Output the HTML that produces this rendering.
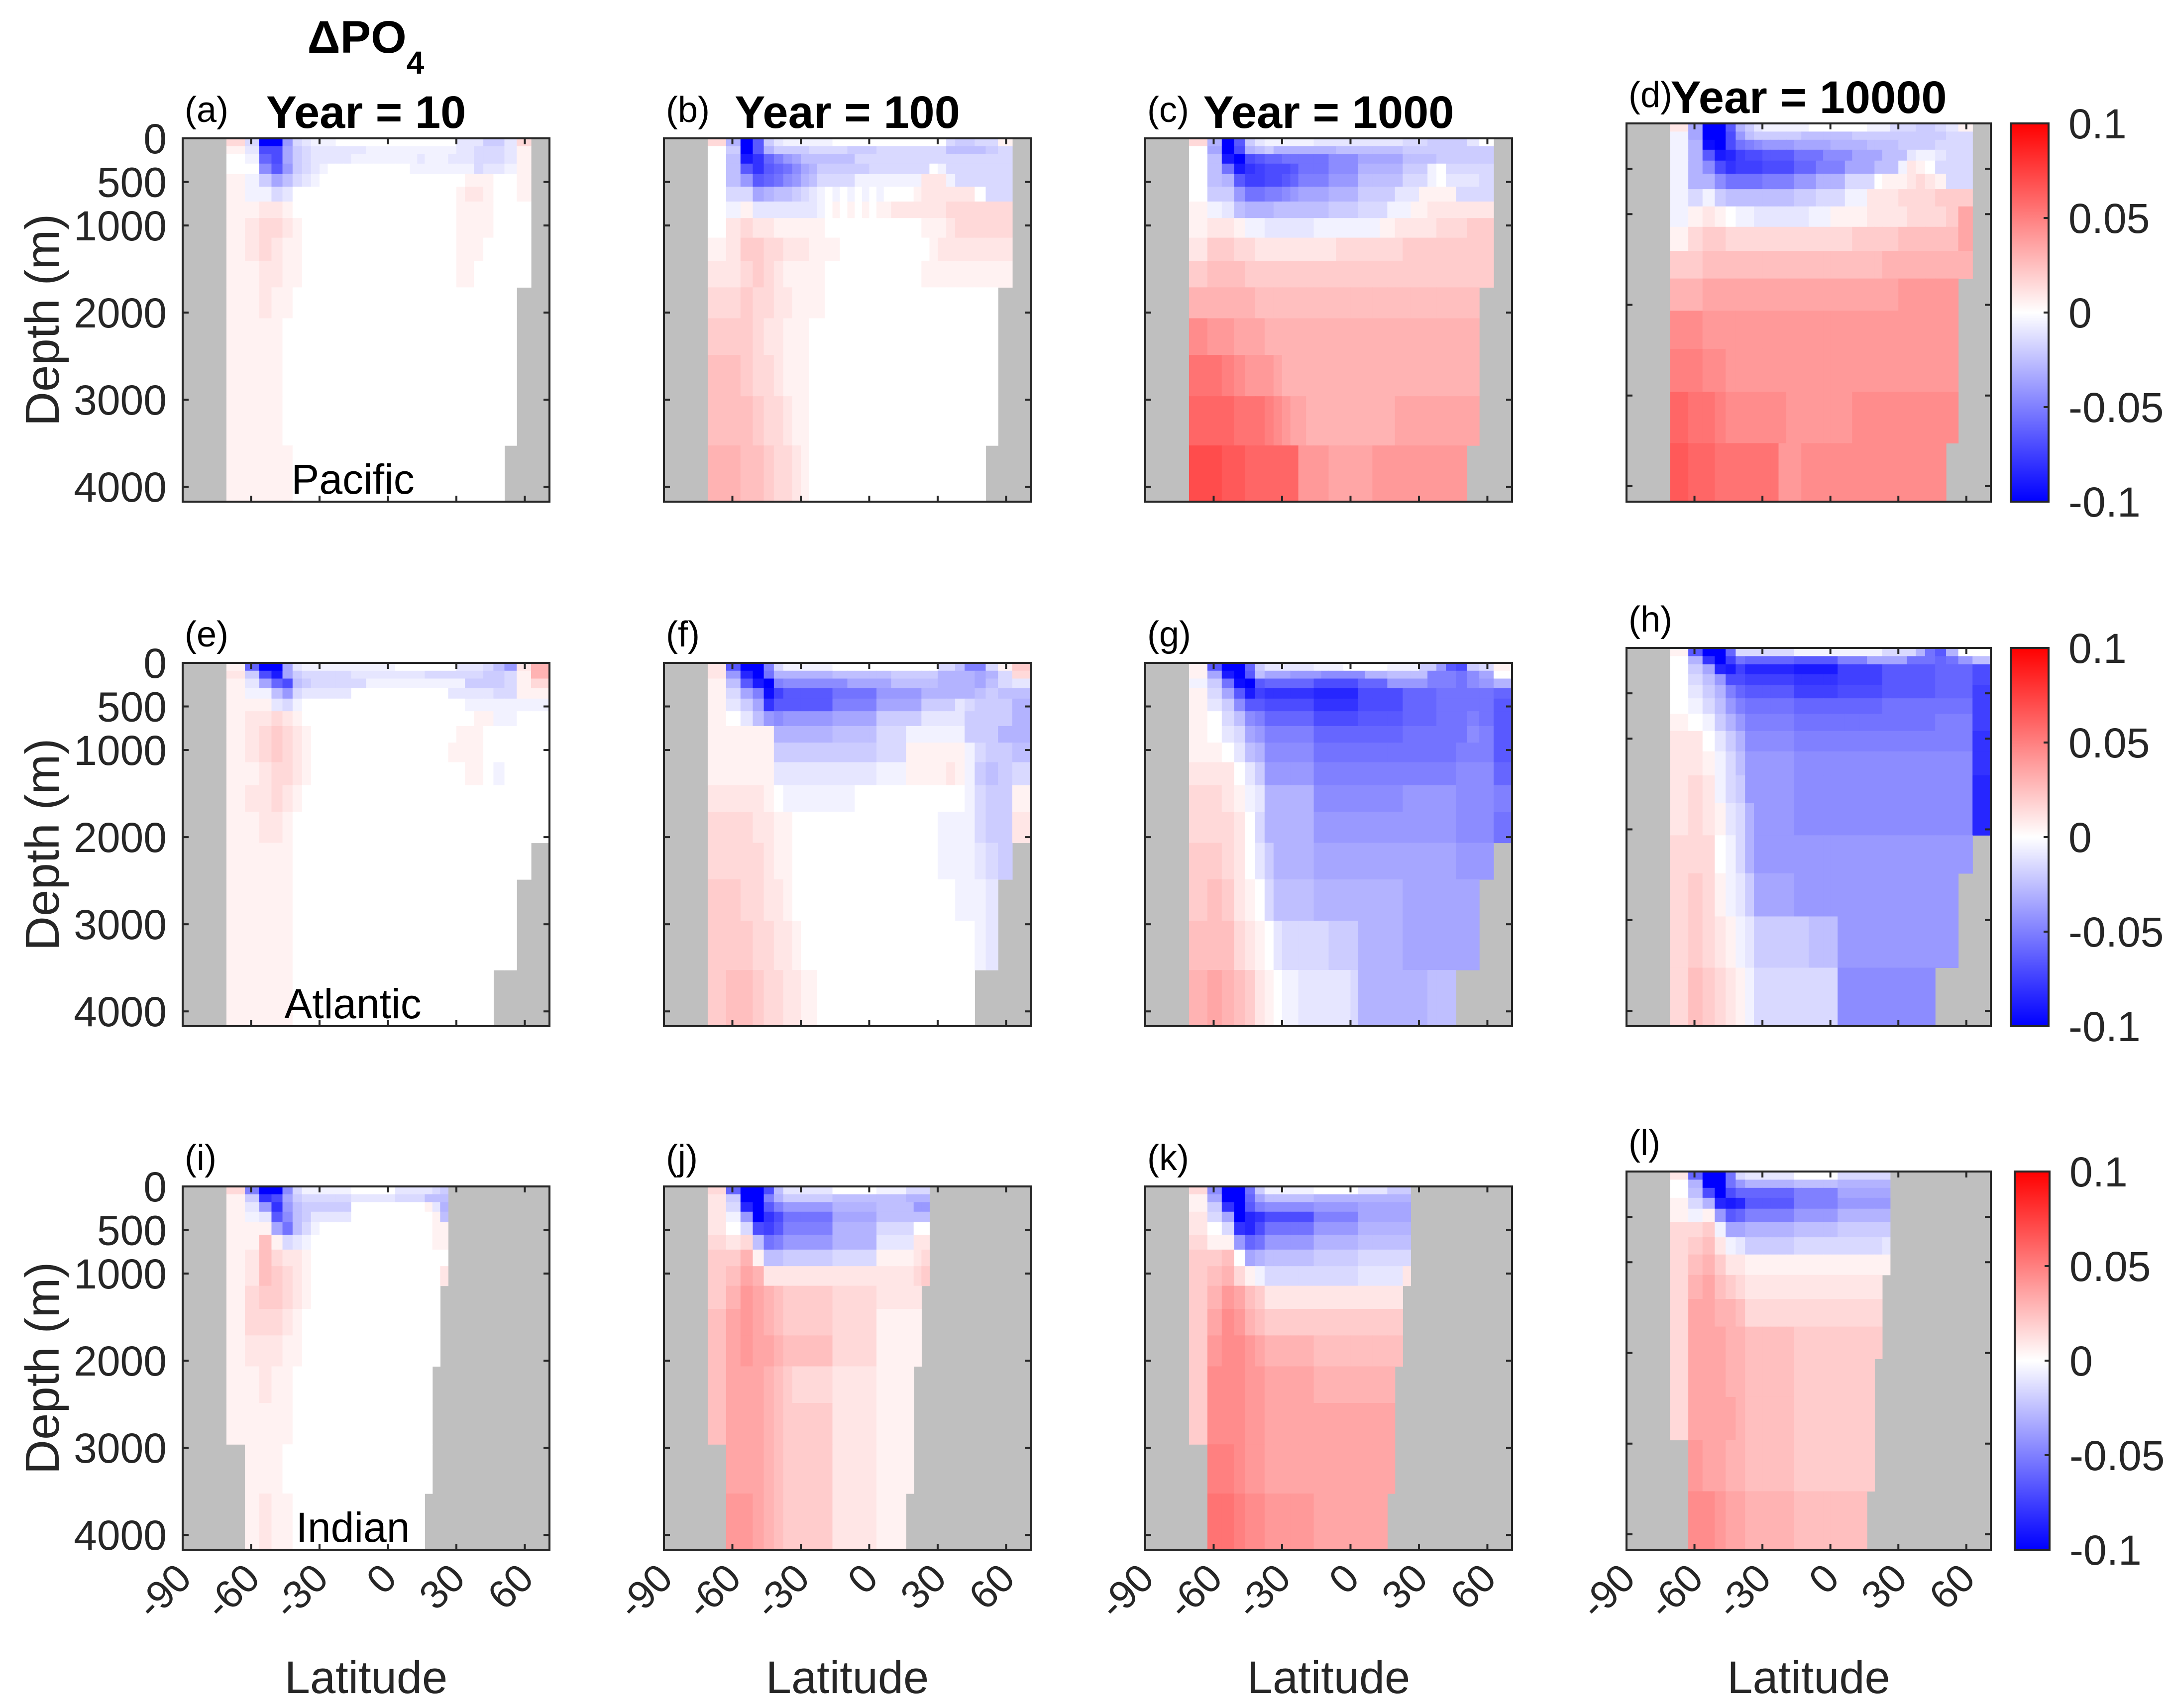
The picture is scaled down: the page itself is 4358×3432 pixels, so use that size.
<!DOCTYPE html>
<html>
<head>
<meta charset="utf-8">
<style>
html,body{margin:0;padding:0;background:#fff;}
svg{display:block;}
text{font-family:"Liberation Sans",Arial,sans-serif;}
</style>
</head>
<body>
<svg id="fig" xmlns="http://www.w3.org/2000/svg" width="4358" height="3432" viewBox="0 0 4358 3432">
<rect x="0" y="0" width="4358" height="3432" fill="#ffffff"/>
<text x="735" y="106" font-size="92" font-weight="bold" text-anchor="middle" fill="#000">ΔPO<tspan font-size="64" dy="42">4</tspan></text>
</svg>
<script>
// ---------- data ----------
const depthEdges=[0,90,180,290,410,555,725,915,1140,1405,1710,2065,2485,2960,3525,4170];
const depthTicks=[0,500,1000,2000,3000,4000];
const latTicks=[-90,-60,-30,0,30,60];
const cbTicks=[0.1,0.05,0,-0.05,-0.1];
const cbTickLabels=["0.1","0.05","0","-0.05","-0.1"];
const years=["10","100","1000","10000"];
const basins=["Pacific","Atlantic","Indian"];
const panelLetters=["a","b","c","d","e","f","g","h","i","j","k","l"];
// value code: t=-0.1 ... a=-0.005, 0, A=0.005 ... T=0.1
const valueKey="tsrqponmlkjihgfedcba0ABCDEFGHIJKLMNOPQRST";
// ocean masks (first / last ocean column per depth layer)
const pacFirst=[1,1,1,1,1,1,1,1,1,1,1,1,1,1,1];
const pacLast=[33,33,33,33,33,33,33,33,33,33,32,32,32,32,31];
const atlFirst=[1,1,1,1,1,1,1,1,1,1,1,1,1,1,1];
const atlLast=[34,34,34,34,34,34,34,34,34,34,34,33,32,32,30];
const indFirst=[1,1,1,1,1,1,1,1,1,1,1,1,1,2,2];
const indLast=[25,25,25,25,25,25,25,25,24,24,24,23,23,23,22];

const pac10=["C c t t h c b aaa 0000000000000000 bbb dd b C","A b n n g d c bbbbbbb aaaaaaaaaaaa bb ccc b A","0 a l n g d c bbbbb aaaaaaaa abaaabbb ccc b A","0 0 i m h d c b a 00000000000 aaaaaaaa c b b a A","A a d g e c b a 0 00000000000 0000000A A A 0 0 A","A a a c b 0 0 0 0 00000000000 000000AB B A 0 0 A","A A B B A 0 0 0 0 00000000000 000000AA AA000","A B C C B A 0 0 0 00000000000 000000AA AA000","A B C B A A 0 0 0 00000000000 000000AA A0000","A A B B A A 0 0 0 00000000000 000000AA 0000","A A B A A 0","A A A A 0","A A A A 0","A A A A 0","A A A A A 0"];
const pac100=["C f t m d b aaaaaa 000000000000000 cddc c A","0 d t m f d dddccc ccdddd ccccccccc eeee d c","0 e r p l j h g eeeeeee cccccccccccc cccccc","0 e m p m l k i g f ddddddd cccccccc 0 a c ccccc","0 e h m l k i h f e ccccc aaaaaaaaa BBB a ccccc","0 c c g f e e d c b a0a0a0a0a0 000ABBB BBB 0 c c","0 a A b b b b b b b a 0A0A0A0A ABBBBBBB CCCCCC","0 B C B B A A A A A A 0000000000000AAA BCCCCC","A B D D C C B B B A A A A 0 0 0 0 0 0 0 0 0 0 0 0 A B B B B B B B","B B C D C B A A A A A 0 0 0 0 0 0 0 0 0 0 0 0 0 A A A A A A A A","C C D C C B B A A A A 0","D D D C B B A A A 0","E E D C C B A A A 0","E E E D C C B A A 0","F F E E D C C B A 0"];
const pac1000=["C f t m d b aaaaaa bbbbbbbbbbbb ccc dddd b 0","0 g t n f e d ffffffff eeeeeeeee ddddd dddd","0 e r t n m l l kkkkkk iiii gggggg eeee ddddd","0 e k r p o n n n m kkkk iiii ffffff ddd a 0 cccc","0 e f m o o n n m l jjjj hhhh eeeeee ccc a 0 b b b c","0 d d h k k j j i h gggg ffff ddddd bbb AAA A ccc","A a b e f f f e e e eeee dddd cccc aaa AABBB BBB","A B B A a a b b b b b b a a a a a a a a a A A B B B B B C C C D D","B D D C C B B B B B B B B B B C C C C C C C C C D D D D D D D D D","D E E E D D D D D D D D D D D D D D D D D D D D D D D D D D D D","F F F F F E E E E E E E","I H H G G G F F F","K K J I H H H G F F F","L L L K K K J I H G G F F F F F F F F F F F F G","N N M M L L L L L L H H H H G G G G G G H H H H H H H H H H H"];
const pac10000=["B g t t m f d b aaaaaa 00000000 aaa ccc d d c b A","a g t t n h e d ddddd eeeeeee ddddddd dd dd c c","a f s t n k j i hhhh ggggg fffff eeee dddd ccc","a f m r q o n n mmmm kkkk iiii gggg eee b a a b c c","a f i n p o o o nnnn lll jjjj gggg eee a B A 0 c c c","a f f i k k k k jjjj hhh ffff cccc 0 AAA BCB A c c","a c a d e e e e eeee ddd cccc aaa BBBB CCCC D D D","a A B A 0 a a b b b b b b b a a a A A A A A B B B B B C C C C D G","A C D D C C C C C C C C C C C C C C C C D D D D D D E E E E E E G","D D E E E E E E E E E E E E E E E E E E E E E E F F F F F F F F F","F F G G G G G G G G G G G G G G G G G G G G G G G G H H H H H H","I I H H H H H H H","J J I I H H H H","L K K J I I I I I I I H H H H H H H H H I I I I I I I I I I I","M L L K K K K K K K H H H I I I I I I I I I I I I I I I I I I"];
const atl10=["A l t t g b aaaaaa aaaaaa 00000000 bbb c e h B F","B d n r g d cccccc bbbbbbbbbb ccccccc d d c A F","A b g l n e d ccccccc aaaaaaaaaaaaa dddd c A C","A a a e h c bbbbbb 0000000000000 bbbbb c c A A","A A A b c a 000000000000000000000 aaa aaaa","A B B C B A 0000000000000000000 000AA a a 0 0","A B C D C B A000000000000000000 0AAA 0 0 0 0 0","A B C D C B A00000000000000000 0AAAA0 0 0 0 0","A A B C C B A 0000000000000000000 0 A A 0 a 0 0 0","A B B C B A 0","A A B B A 0","A A A A A 0","A A A A A 0","A A A A A 0","A A A A A 0"];
const atl100=["B m t t j c aaaaaa 00000000000000 c c e j j c A D","B h q t k f ffffff eeeeeeee dddddd ffff g f c C","A e m r t j iiiiiiii gggggg eeeeee ffff g e c b","A c g j s o mmmmmm kkkkkk hhhhhh ffffff e d e e","A b d g p m mmmmmm jjjjjj gggggg dddd b c d d d f","A 0 b e h i hhhhhh gggggg dddddd bbbb b d d d d f","A A A A A f ffffff eeeeee cccc aaaa aaa d d d f f","A A A A A d dddddd dddddd cccc AAAAA A A a c d d e","A A A A A b b bbbbbbbbbbb aaaa AAAAA B A a d e d c","B B B B A 0 aaaaaaaaa 000000000000 0 0 a c d d A","C C C B B A A 0000000000000000000 aaaa c d d B","C C C C B A A 0000000000000000000 aaaa b c d","D D C C B B A 000000000000000000000 a a a b","D D D C C B B A 0000000000000000000000 a b","D E E D C C B B A A 0"];
const atl1000=["A m t t l d bbbbbb aaaa 000000 aaaa d d h m n d c A","A g r t m e g g g h h h h i i i i i i f f f e e e e e j j j k i g 0","a d k s t m llllll nnnnnn llll hhhhh jjj k i h f","A c g m r o pppppp qqqqqq nnnnnn llll kkkkk l","A b d i m m nnnnnn pppppp nnnnnn llll kkkkk m","A 0 c e i j llllll nnnnnn mmmmmm llll kkk j k m","A 0 b c g h jjjjjj llllll llllll kkkk kkk i j m","A A 0 b e f iiiiii kkkkkk kkkkkk kkkkkk jjj m","B B B 0 b d hhhhhh jjjjjj jjjjjj jjjjjj iii l","C C B A a b ffffff iiiiiiiiiiii hhhhhh iii j","C C C B 0 c ffffff hhhhhhhhhhhh hhhhhh iii k","D D C B 0 b d fffff gggggggggggg gggggg hhh","D E D B A 0 c eeeee ffffffffffff gggggg gg","E E E C B A 0 b cccccc dddd ffffff gggggg gg","F G F E D B A 0 aabbbb bbb c fffffffff eee"];
const atl10000=["A m t t l c cccccc aaaaaa aaaaaa cccc f k m f 0 0","0 f p t o k llllll mmmmmm jjjj ggggg kkk l k h e","0 d g q r o qqqqqq rrrrrr oooooo mmmmmm lll n","0 c e h n n oooooo pppppp oooooo mmmmmm lll n","0 b d f j l mmmmmm oooooo nnnnnn mmmmmm lll o","0 a c e h j kkkkkk llllll llllll kkkkkk kkk o","A 0 a d f h jjjjjj kkkkkk kkkkkk kkkkkk jjj o","B B 0 b d f iiiiii jjjjjj jjjjjj jjjjjj jjj p","B B A a c e hhhhhh iiiiii iiiiii iiiiii iii p","B C B a c d hhhhhh iiiiii iiiiii iiiiii iii q","B C B A b c f hhhhh iiiiii iiiiii iiiiii iii q","C C C 0 a c f hhhhh hhhhhhhhhhhh hhhhhh hhh","C D C A a b d ggggg hhhhhhhhhhhh hhhhhh hh","C D C B A a b ddddddd eeee hhhhhhhhhhhhhh","C E D C B A a ccccccc cccc iiiiiiiiiiii"];
const ind10=["C j t t i c aaaaaa 000000 bbbbb c d","A d p n g d cccccc bbbbbb cccc eee","A b h p h e dddddd 000000 0000A b f","A a b m i e d bbbbb 00000000000A e","A A A g k e c a 000000000000000AA","A A E A c b a 0000000000000000AA","A B E C B B A000000000000000000","A B E D C B A00000000000000000 B","A C D D C B A 0","A C C C B A 0","A B B B A A 0","A A B A A 0","A A A A A 0","0 A A A 0","0 A B A A 0"];
const ind100=["C l t t n e bbbbbb 000000 aaaa ccc","B d t t j f dddddd eeeeee eeee fff","B c q t m j hhhhhh ffffff eeeee hh","B a h t p n kkkkkk gggggg eeeee ee","B 0 c n o m jjjjjj ffffff ccccc 0 0","C B C e k j hhhhhh ffffff bbbbb B B","D D F A e e dddddd cccccc AAAAA B C","D E G F B B BBBBBB BBBBBB BBBBB C D","D F H G F E DDDDDD CCCCCC BBBBBB B","E G H G F E DDDDDD CCCCCC AAAAAA","E G H G G F EEEEEE CCCCCC AAAAAA","E G G G F E D CCCCC BBBBBB AAAAA","E G G G F E DDDDDD BBBBBB AAAAA","0 G G G F E DDDDDD BBBBBB AAAAA","0 H H G F E DDDDDD BBBBBB AAAA"];
const ind1000=["C i t t k d aaaaaa 000000 bbbb ddd","A g t t l g eeeeee ffffff fffffff","A d p t m j iiiiii hhhhhh ggggggg","B c g t q p nnnnnn jjjjjj ggggggg","B 0 c p q n kkkkkk hhhhhh fffffff","C A A h l k hhhhhh ffffff eeeeeee","D D E 0 g f eeeeee dddddd ccccccc","D E F C A a cccccc cccccc bbbbbb B","D F H G E D BBBBBB BBBBBB BBBBBB","D G I H F E DDDDDD DDDDDD DDDDDD","D H I I H G FFFFFF EEEEEE EEEEEE","D I I I H H GGGGGG FFFFFF FFFFF","D I I I H H GGGGGG GGGGGG GGGGG","0 J J I H H GGGGGG GGGGGGGGGGG","0 K K J I I HHHHHH GGGGGGGGGG"];
const ind10000=["B l t t k c bbbbbb 000000 ccccccc","0 f t t k h ffffff eeeeee fffffff","0 e n t n l llllll jjjjjj ggggggg","A c f q r q mmmmmm jjjjjj hhhhhhh","A a A h m l jjjjjj hhhhhh fffffff","C C D a g g ffffff eeeeee ddddddd","C D E B a b dddddd cccccc cccccc b","C E F D B B AAAAAA AAAAAAAAAAAA","C F G E D C BBBBBB BBBBBBBBBBBB","C G G F F E CCCCCC CCCCCCCCCCCC","C G G G F F EEEEEE DDDDDDDDDDDD","C G G G F F EEEEEE DDDDDDDDDDD","C G G G G F EEEEEE DDDDDDDDDDD","0 H G G F F EEEEEE DDDDDDDDDDD","0 I I H G G FFFFFF EEEEEEEEEE"];

const panelData=[pac10,pac100,pac1000,pac10000,atl10,atl100,atl1000,atl10000,ind10,ind100,ind1000,ind10000];
const maskFirst=[pacFirst,atlFirst,indFirst];
const maskLast=[pacLast,atlLast,indLast];

// ---------- layout ----------
const NS="http://www.w3.org/2000/svg";
const svg=document.getElementById("fig");
const colLeft=[367,1334,2301,3268];
const colW=[737,737,737,732];
const rowTop=[278,1332,2384];
const rowBot=[1008,2062,3114];
const latMax=Math.asin(17/18)*180/Math.PI;
const DMAX=4170;
const AX="#262626";

function el(tag,parent){const e=document.createElementNS(NS,tag);(parent||svg).appendChild(e);return e;}
function setA(e,o){for(const k in o)e.setAttribute(k,o[k]);return e;}
function colorOf(v){
  const t=Math.min(1,Math.abs(v)/0.1);
  const c=Math.round(255*(1-t));
  return v>=0?`rgb(255,${c},${c})`:`rgb(${c},${c},255)`;
}
function decode(ch){const i=valueKey.indexOf(ch);return i<0?0:(i-20)*0.005;}

for(let r=0;r<3;r++){
  for(let c=0;c<4;c++){
    const p=r*4+c;
    const L=colLeft[c],W=colW[c];
    const T=(c===3)?rowTop[r]-30:rowTop[r];
    const B=rowBot[r],H=B-T;
    const xs=lat=>L+(lat+90)/(latMax+90)*W;
    const ys=d=>T+d/DMAX*H;
    const g=el("g");
    
    
    const bg=setA(el("rect",g),{x:L,y:T,width:W,height:H,fill:"#bfbfbf"});
    
    
    const rows=panelData[p];
    for(let k=0;k<15;k++){
      let s=(rows[k]||"0").replace(/ /g,"");
      const first=maskFirst[r][k],last=maskLast[r][k];
      const n=last;
      if(s.length<n)s=s.padEnd(n,s[s.length-1]);
      for(let col=first;col<=last;col++){
        const v=decode(s[col-1]);
        const x0=xs(Math.asin(-1+col/18)*180/Math.PI);
        const x1=xs(Math.asin(-1+(col+1)/18)*180/Math.PI);
        const y0=ys(depthEdges[k]),y1=ys(depthEdges[k+1]);
        const cell=setA(el("rect",g),{x:x0.toFixed(2),y:y0.toFixed(2),width:(x1-x0+0.6).toFixed(2),height:(y1-y0+0.6).toFixed(2),fill:colorOf(v)});
        
        
      }
    }
    for(const d of depthTicks){
      const y=ys(d);
      const t1=setA(el("line",g),{x1:L,y1:y,x2:L+12,y2:y,stroke:AX,"stroke-width":4});
      
      
      const t2=setA(el("line",g),{x1:L+W-12,y1:y,x2:L+W,y2:y,stroke:AX,"stroke-width":4});
      
      
    }
    for(const lat of latTicks){
      const x=xs(lat);
      const t1=setA(el("line",g),{x1:x,y1:B,x2:x,y2:B-12,stroke:AX,"stroke-width":4});
      
      
      const t2=setA(el("line",g),{x1:x,y1:T,x2:x,y2:T+12,stroke:AX,"stroke-width":4});
      
      
    }
    const frame=setA(el("rect",g),{x:L,y:T,width:W,height:H,fill:"none",stroke:AX,"stroke-width":4});
    
    
    const lt=setA(el("text",g),{x:L+4,y:T-33,"font-size":72,fill:"#000"});
    lt.textContent="("+panelLetters[p]+")";
    
    
    if(r===0){
      const tt=setA(el("text",g),{x:L+W/2,y:T-21,"font-size":92,"font-weight":"bold","text-anchor":"middle",fill:"#000"});
      tt.textContent="Year = "+years[c];
      
      
    }
    if(c===0){
      for(const d of depthTicks){
        const tl=setA(el("text",g),{x:335,y:ys(d)+30,"font-size":84,"text-anchor":"end",fill:AX});
        tl.textContent=String(d);
        
        
      }
      const yl=setA(el("text",g),{x:0,y:0,"font-size":96,"text-anchor":"middle",fill:AX,transform:`translate(118,${(T+B)/2}) rotate(-90)`});
      yl.textContent="Depth (m)";
      
      
      const bn=setA(el("text",g),{x:L+342,y:B-16,"font-size":84,"text-anchor":"middle",fill:"#000"});
      bn.textContent=basins[r];
      
      
    }
    if(r===2){
      for(const lat of latTicks){
        const xl=setA(el("text",g),{x:0,y:0,"font-size":80,"text-anchor":"end",fill:AX,transform:`translate(${xs(lat)+22},${B+62}) rotate(-45)`});
        xl.textContent=String(lat);
        
        
      }
      const xt=setA(el("text",g),{x:L+W/2,y:3402,"font-size":92,"text-anchor":"middle",fill:AX});
      xt.textContent="Latitude";
      
      
    }
    if(c===3){
      const cbL=(r===2)?4048:4040, cbW=(r===2)?70:76;
      const gid="cbgrad"+r;
      const defs=el("defs",g);
      const lg=setA(el("linearGradient",defs),{id:gid,x1:0,y1:1,x2:0,y2:0});
      setA(el("stop",lg),{offset:"0","stop-color":"#0000ff"});
      setA(el("stop",lg),{offset:"0.5","stop-color":"#ffffff"});
      setA(el("stop",lg),{offset:"1","stop-color":"#ff0000"});
      const cb=setA(el("rect",g),{x:cbL,y:T,width:cbW,height:H,fill:`url(#${gid})`,stroke:AX,"stroke-width":4});
      
      
      cbTicks.forEach((v,i)=>{
        const y=T+(0.1-v)/0.2*H;
        const tk=setA(el("line",g),{x1:cbL+cbW-10,y1:y,x2:cbL+cbW,y2:y,stroke:AX,"stroke-width":4});
        
        
        const tl=setA(el("text",g),{x:cbL+cbW+40,y:y+30,"font-size":84,fill:AX});
        tl.textContent=cbTickLabels[i];
        
        
      });
    }
  }
}
</script>
</body>
</html>
